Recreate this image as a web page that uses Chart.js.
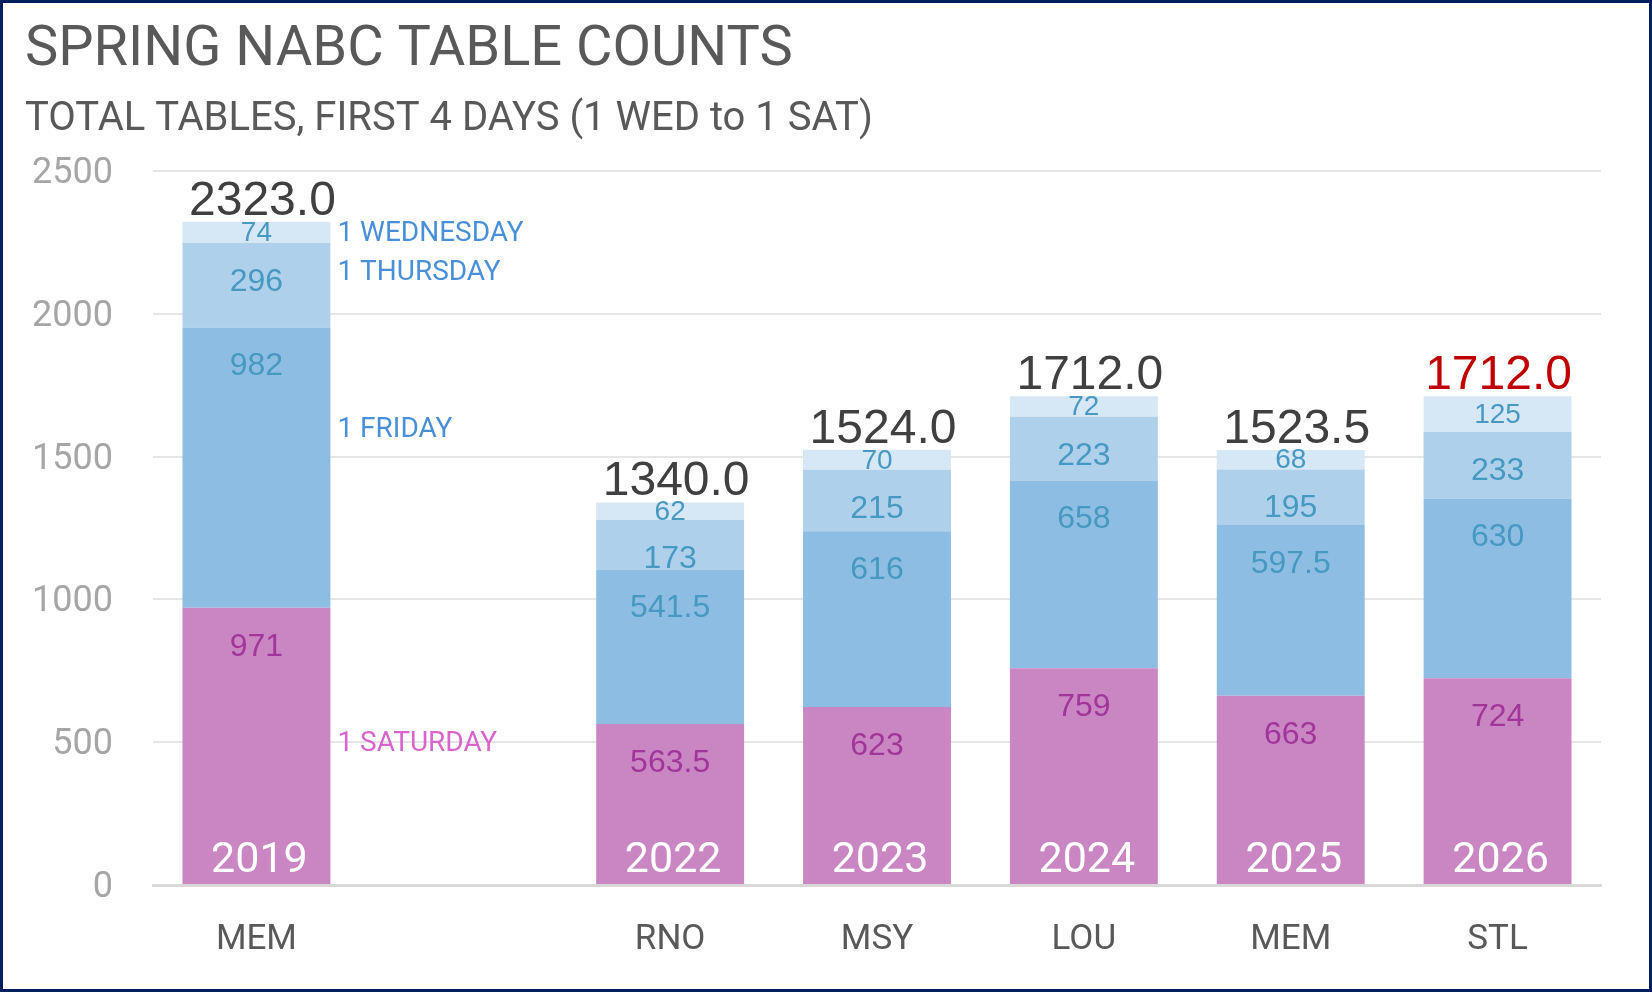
<!DOCTYPE html>
<html>
<head>
<meta charset="utf-8">
<title>Spring NABC Table Counts</title>
<script src="https://cdn.jsdelivr.net/npm/chart.js@4.4.1/dist/chart.umd.min.js"></script>
<style>
    html, body { margin: 0; padding: 0; background: #ffffff; }
    #chart { display: block; }
</style>
</head>
<body>
<canvas id="chart" width="1652" height="992"></canvas>
<script>
// Data (one empty slot between 2019 and 2022)
const cities = ['MEM', '', 'RNO', 'MSY', 'LOU', 'MEM', 'STL'];
const years = ['2019', '', '2022', '2023', '2024', '2025', '2026'];
const saturday = [971, null, 563.5, 623, 759, 663, 724];
const friday = [982, null, 541.5, 616, 658, 597.5, 630];
const thursday = [296, null, 173, 215, 223, 195, 233];
const wednesday = [74, null, 62, 70, 72, 68, 125];
const dayNames = ['1 SATURDAY', '1 FRIDAY', '1 THURSDAY', '1 WEDNESDAY'];
const yTicks = [0, 500, 1000, 1500, 2000, 2500];

const SANS = 'Roboto, "Liberation Sans", sans-serif';
const NUM = '"Liberation Sans", Arial, sans-serif';

// Nền trắng + viền xanh đậm
const frame = {
    id: 'frame',
    beforeDraw(chart) {
        const ctx = chart.ctx;
        ctx.save();
        ctx.fillStyle = '#ffffff';
        ctx.fillRect(0, 0, chart.width, chart.height);
        ctx.restore();
    },
    afterDraw(chart) {
        const ctx = chart.ctx;
        ctx.save();
        ctx.strokeStyle = '#002060';
        ctx.lineWidth = 3;
        ctx.strokeRect(1.5, 1.5, chart.width - 3, chart.height - 3);
        ctx.restore();
    }
};

// Nhãn giá trị, tổng, năm và tên ngày
const barLabels = {
    id: 'barLabels',
    afterDatasetsDraw(chart, args, opts) {
        const ctx = chart.ctx;
        const yScale = chart.scales.y;
        const n = chart.data.labels.length;
        const last = chart.data.datasets.length - 1;
        ctx.save();
        ctx.textAlign = 'center';
        ctx.textBaseline = 'middle';

        chart.data.datasets.forEach((ds, d) => {
            const meta = chart.getDatasetMeta(d);
            meta.data.forEach((el, i) => {
                const v = ds.data[i];
                if (v == null) return;
                let y;
                if (d === last) {
                    ctx.font = '28px ' + NUM;
                    y = (el.y + el.base) / 2 + 1;
                } else {
                    ctx.font = '32px ' + NUM;
                    y = el.y + 39;
                }
                ctx.fillStyle = d === 0 ? '#a1359a' : '#4799c2';
                ctx.fillText(String(v), el.x, y);
            });
        });

        // totals
        const topMeta = chart.getDatasetMeta(last);
        ctx.font = '48px ' + NUM;
        ctx.textBaseline = 'alphabetic';
        for (let i = 0; i < n; i++) {
            if (chart.data.datasets[0].data[i] == null) continue;
            let total = 0;
            chart.data.datasets.forEach(ds => { total += ds.data[i]; });
            const el = topMeta.data[i];
            const isLast = i === n - 1;
            ctx.fillStyle = isLast ? '#c00000' : '#404040';
            ctx.fillText(total.toFixed(1), el.x + (isLast ? 1 : 6), el.y - 7);
        }

        // years inside the bars
        const baseMeta = chart.getDatasetMeta(0);
        ctx.font = '43px ' + SANS;
        ctx.textBaseline = 'middle';
        ctx.fillStyle = '#ffffff';
        years.forEach((yr, i) => {
            if (!yr) return;
            ctx.fillText(yr, baseMeta.data[i].x + 3, baseMeta.data[i].base - 23);
        });

        // day names beside the first bar
        const firstBar = baseMeta.data[0];
        const xRight = firstBar.x + firstBar.width / 2 + 7;
        ctx.font = '28px ' + SANS;
        ctx.textAlign = 'left';
        dayNames.forEach((name, d) => {
            ctx.fillStyle = d === 0 ? '#d865cc' : '#4a90d9';
            ctx.fillText(name, xRight, yScale.getPixelForValue(opts.anchors[d]) + 2);
        });
        ctx.restore();
    }
};

const ctx = document.getElementById('chart').getContext('2d');
new Chart(ctx, {
    type: 'bar',
    data: {
        labels: cities,
        datasets: [
            { label: '1 SATURDAY', data: saturday, backgroundColor: '#c986c3' },
            { label: '1 FRIDAY', data: friday, backgroundColor: '#8dbde3' },
            { label: '1 THURSDAY', data: thursday, backgroundColor: '#aed0eb' },
            { label: '1 WEDNESDAY', data: wednesday, backgroundColor: '#d6e7f5' }
        ]
    },
    options: {
        responsive: false,
        animation: false,
        devicePixelRatio: 1,
        layout: { padding: { left: 25, right: 51, top: 0, bottom: 0 } },
        datasets: {
            bar: { barPercentage: 0.715, categoryPercentage: 1, borderWidth: 0 }
        },
        scales: {
            x: {
                stacked: true,
                grid: { display: false, drawTicks: false },
                border: { display: true, color: '#d9d9d9', width: 3 },
                ticks: {
                    color: '#595959',
                    padding: 34,
                    font: { family: SANS, size: 35 }
                },
                afterFit(scale) { scale.height = 107; }
            },
            y: {
                stacked: true,
                min: yTicks[0],
                max: yTicks[yTicks.length - 1],
                afterBuildTicks(scale) { scale.ticks = yTicks.map(v => ({ value: v })); },
                grid: { color: '#e6e6e6', lineWidth: 2, drawTicks: false },
                border: { display: false },
                ticks: {
                    color: '#a6a6a6',
                    padding: 40,
                    labelOffset: 3,
                    font: { family: SANS, size: 36 },
                    callback: value => String(value)
                },
                afterFit(scale) { scale.width = 128; }
            }
        },
        plugins: {
            legend: { display: false },
            tooltip: { enabled: false },
            title: {
                display: true,
                text: 'SPRING NABC TABLE COUNTS',
                align: 'start',
                color: '#595959',
                font: { family: SANS, size: 56, weight: 'normal', lineHeight: 1.2 },
                padding: { top: 17, bottom: 0 }
            },
            subtitle: {
                display: true,
                text: 'TOTAL TABLES, FIRST 4 DAYS (1 WED to 1 SAT)',
                align: 'start',
                color: '#595959',
                font: { family: SANS, size: 40, weight: 'normal', lineHeight: 1.2 },
                padding: { top: 12, bottom: 27 }
            },
            barLabels: { anchors: [500, 1600, 2150, 2286] }
        }
    },
    plugins: [frame, barLabels]
});
</script>
</body>
</html>
